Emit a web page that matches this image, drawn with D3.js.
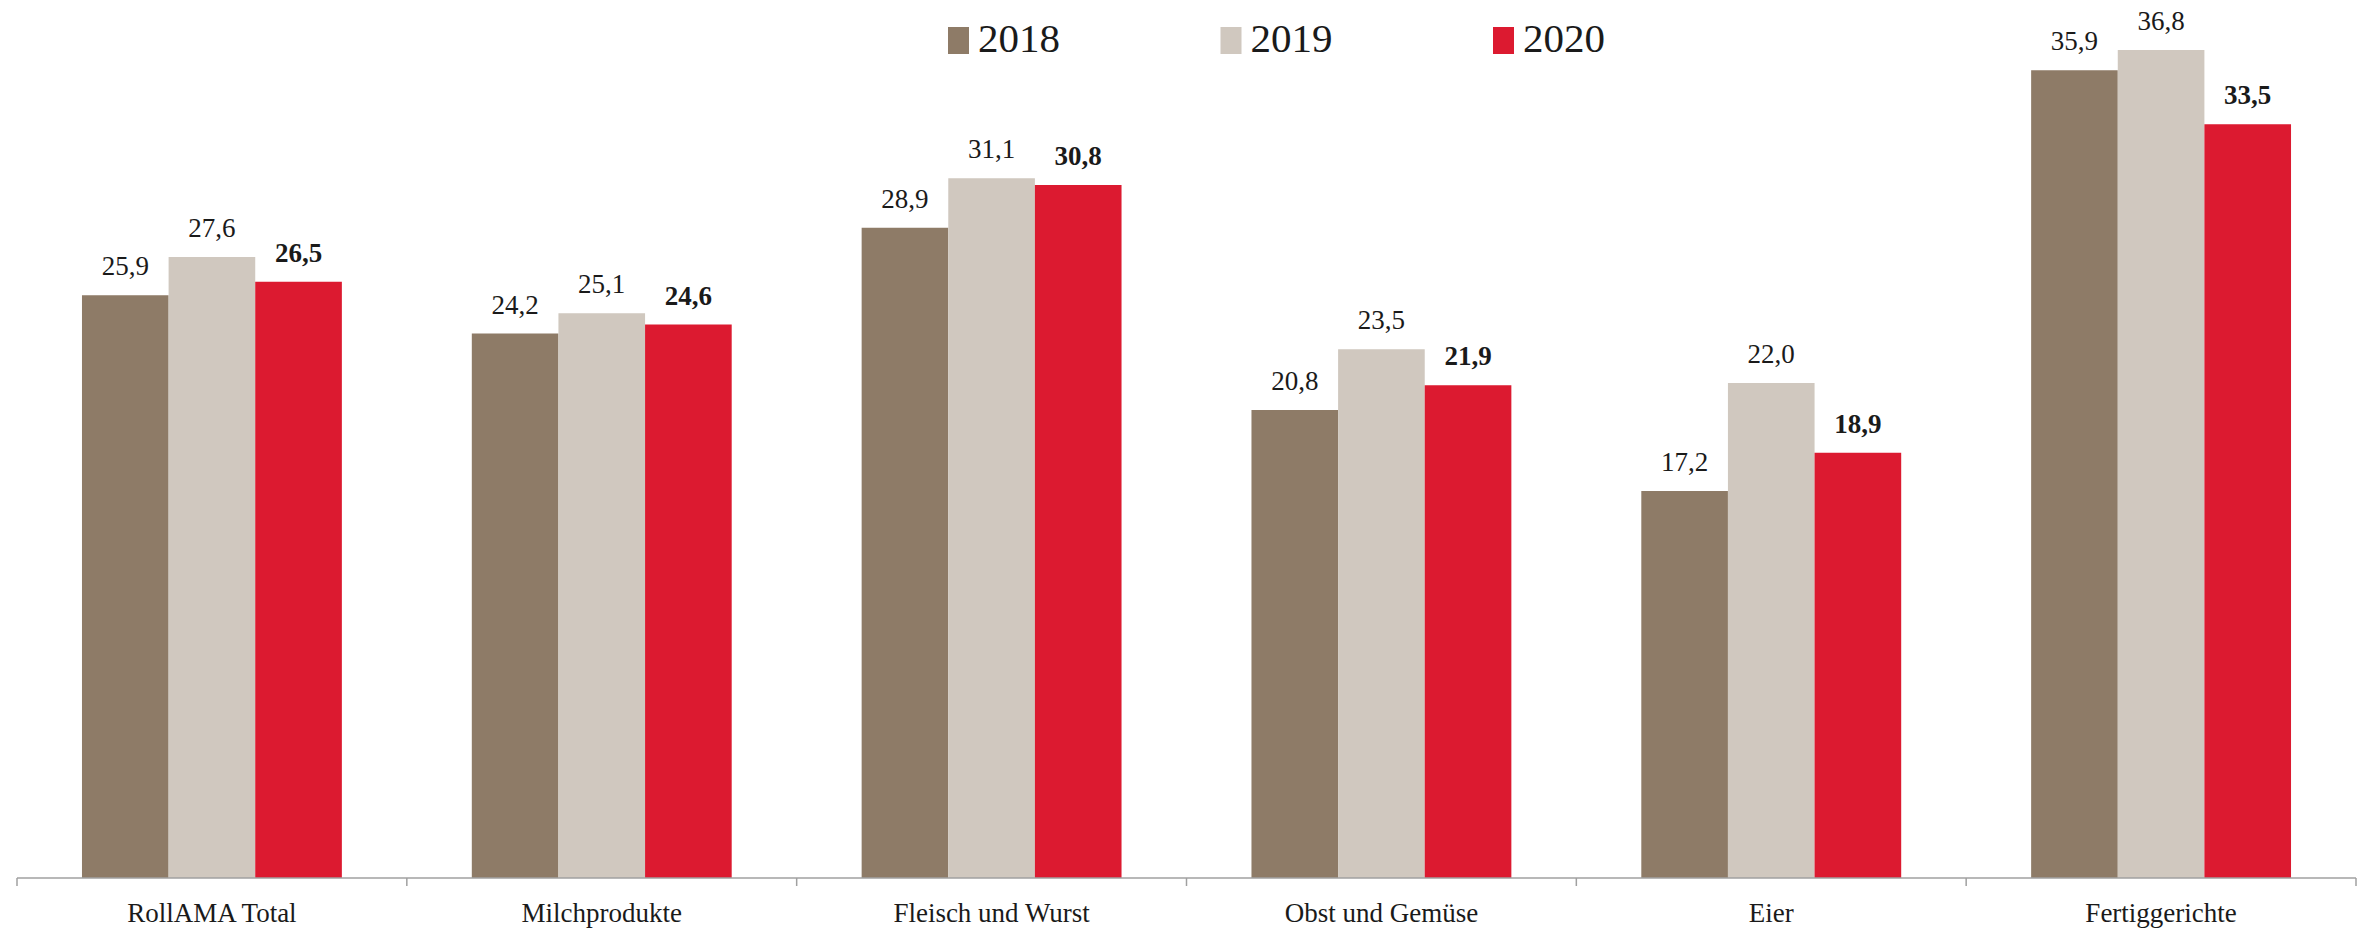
<!DOCTYPE html>
<html><head><meta charset="utf-8">
<script src="https://cdn.jsdelivr.net/npm/d3@7"></script>
<style>body{margin:0;background:#fff}svg{display:block}text{font-family:"Liberation Serif","Times New Roman",serif;fill:#1a1a1a}</style>
</head><body>
<script>
const categories = ["RollAMA Total","Milchprodukte","Fleisch und Wurst","Obst und Gemüse","Eier","Fertiggerichte"];
const seriesNames = ["2018","2019","2020"];
const values2018 = [25.9,24.2,28.9,20.8,17.2,35.9];
const values2019 = [27.6,25.1,31.1,23.5,22.0,36.8];
const values2020 = [26.5,24.6,30.8,21.9,18.9,33.5];
const colors = ["#8e7b67","#d0c8bf","#dc1a30"];
const allValues = [values2018, values2019, values2020];

const W = 2367, H = 931;
const svg = d3.select("body").append("svg").attr("width", W).attr("height", H);

const x0 = d3.scaleBand().domain(categories).range([17, 2356]).paddingInner(0).paddingOuter(0);
const x1 = d3.scaleBand().domain(seriesNames).range([0, x0.bandwidth()]).paddingInner(0).paddingOuter(0.75);
const y = d3.scaleLinear().domain([0, 40]).range([878, 878 - 22.5 * 40]);

const fmt = v => d3.format(".1f")(v).replace(".", ",");

const groups = svg.selectAll("g.cat").data(categories).join("g")
  .attr("transform", d => `translate(${x0(d)},0)`);

seriesNames.forEach((s, si) => {
  groups.append("rect")
    .attr("x", x1(s))
    .attr("width", x1.bandwidth())
    .attr("y", (d, i) => y(allValues[si][i]))
    .attr("height", (d, i) => y(0) - y(allValues[si][i]))
    .attr("fill", colors[si]);
  groups.append("text")
    .attr("x", x1(s) + x1.bandwidth() / 2)
    .attr("y", (d, i) => y(allValues[si][i]) - 20)
    .attr("text-anchor", "middle")
    .attr("font-size", 27)
    .attr("font-weight", si === 2 ? "bold" : "normal")
    .text((d, i) => fmt(allValues[si][i]));
});

// axis
const axis = d3.axisBottom(x0).tickSize(0).tickFormat(d => d);
const ag = svg.append("g").attr("transform", `translate(0,${y(0)})`).call(axis);
ag.select(".domain").attr("stroke", "#a0a0a0").attr("stroke-width", 1.5).attr("d", `M17,0H2356`);
ag.selectAll(".tick text").attr("font-size", 27).attr("dy", 0).attr("y", 44)
  .style("font-family", '"Liberation Serif",serif').attr("fill", "#1a1a1a");
// boundary ticks
const bounds = categories.map(c => x0(c)).concat([x0.range()[1]]);
svg.append("g").selectAll("line").data(bounds).join("line")
  .attr("x1", d => d).attr("x2", d => d)
  .attr("y1", y(0)).attr("y2", y(0) + 8)
  .attr("stroke", "#a0a0a0").attr("stroke-width", 1.5);

// legend
const legendX = d3.scalePoint().domain(seriesNames).range([948, 1493]);
const lg = svg.append("g").selectAll("g").data(seriesNames).join("g")
  .attr("transform", d => `translate(${legendX(d)},0)`);
lg.append("rect").attr("x", 0).attr("y", 27).attr("width", 21).attr("height", 27)
  .attr("fill", (d, i) => colors[i]);
lg.append("text").attr("x", 30).attr("y", 52).attr("font-size", 41).text(d => d);
</script>
</body></html>
